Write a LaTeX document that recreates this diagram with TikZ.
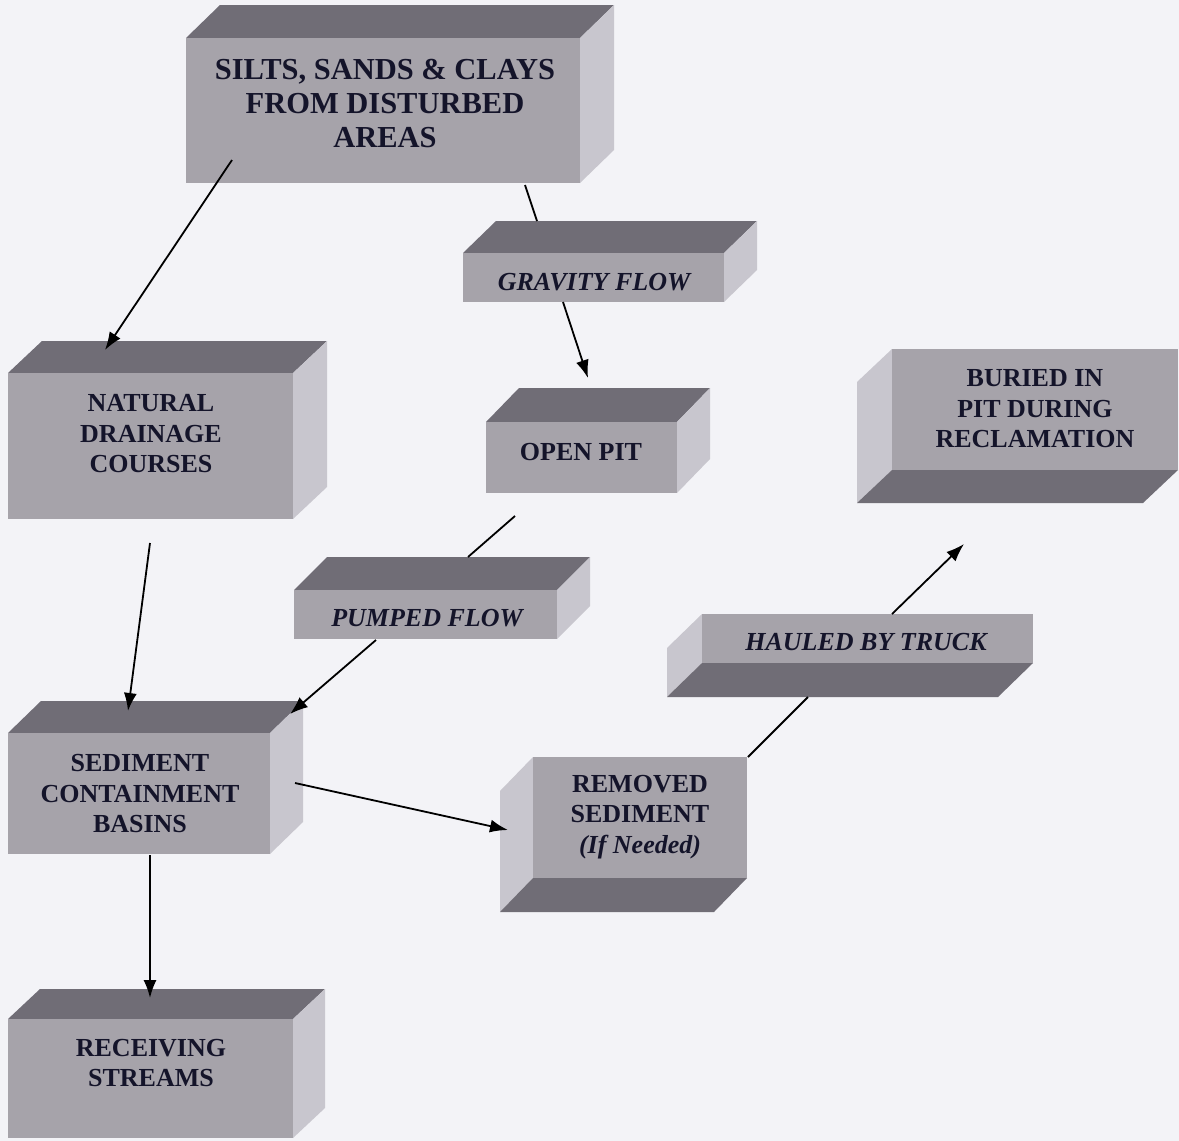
\documentclass[tikz,border=0pt]{standalone}
\usepackage{fontspec}
\setmainfont{Liberation Serif}
\usetikzlibrary{calc,fit,arrows.meta}
\definecolor{bgc}{HTML}{F3F3F7}
\definecolor{frontc}{HTML}{A6A3AA}
\definecolor{darkc}{HTML}{706D76}
\definecolor{lightc}{HTML}{C8C6CE}
\definecolor{txtc}{HTML}{14142A}
\tikzset{
  frontface/.style={fill=frontc, draw=none, inner sep=0pt},
  darkface/.style={fill=darkc},
  lightface/.style={fill=lightc},
  lbl/.style={align=center, font=\bfseries\fontsize{26}{30.5}\selectfont, text=txtc, inner sep=0pt},
  ilbl/.style={lbl, font=\bfseries\itshape\fontsize{26}{30.5}\selectfont},
  arr/.style={line width=1.8pt, -{Latex[length=18pt,width=13pt]}},
  seg/.style={line width=1.8pt},
}
% block seen from above right: name, x1, y1, x2, y2, depth
\newcommand\blockUR[6]{%
  \fill[darkface] (#2,#3) -- ($(#2,#3)+(#6)$) -- ($(#4,#3)+(#6)$) -- (#4,#3) -- cycle;
  \fill[lightface] (#4,#3) -- ($(#4,#3)+(#6)$) -- ($(#4,#5)+(#6)$) -- (#4,#5) -- cycle;
  \node[frontface, fit={(#2,#3)(#4,#5)}] (#1) {};
}
% block seen from below left: name, x1, y1, x2, y2, depth
\newcommand\blockDL[6]{%
  \fill[lightface] (#2,#3) -- ($(#2,#3)+(#6)$) -- ($(#2,#5)+(#6)$) -- (#2,#5) -- cycle;
  \fill[darkface] (#2,#5) -- ($(#2,#5)+(#6)$) -- ($(#4,#5)+(#6)$) -- (#4,#5) -- cycle;
  \node[frontface, fit={(#2,#3)(#4,#5)}] (#1) {};
}
\begin{document}
\begin{tikzpicture}[x=1pt,y=-1pt]
\useasboundingbox (0,0) rectangle (1179,1141);
\fill[bgc] (0,0) rectangle (1179,1141);

\blockUR{silts}{186}{38}{580}{183}{34,-33}
\blockUR{gravity}{463}{253}{724}{302}{33,-32}
\blockUR{natural}{8}{373}{293}{519}{34,-32}
\blockUR{openpit}{486}{422}{677}{493}{33,-34}
\blockDL{buried}{892}{349}{1178}{470}{-35,33}
\blockUR{pumped}{294}{590}{557}{639}{33,-33}
\blockDL{hauled}{702}{614}{1033}{663}{-35,34}
\blockDL{removed}{533}{757}{747}{878}{-33,34}
\blockUR{sediment}{8}{733}{270}{854}{33,-32}
\blockUR{receiving}{8}{1019}{293}{1138}{32,-30}

\node[lbl, font=\bfseries\fontsize{30.5}{34}\selectfont] (silts-t) at (385,104) {SILTS, SANDS \& CLAYS\\FROM DISTURBED\\AREAS};
\node[ilbl] (gravity-t) at (594,282) {GRAVITY FLOW};
\node[lbl] (natural-t) at (151,434) {NATURAL\\DRAINAGE\\COURSES};
\node[lbl] (openpit-t) at (581,452) {OPEN PIT};
\node[lbl] (buried-t) at (1035,409) {BURIED IN\\PIT DURING\\RECLAMATION};
\node[ilbl] (pumped-t) at (427,618) {PUMPED FLOW};
\node[ilbl] (hauled-t) at (866,642) {HAULED BY TRUCK};
\node[lbl] (removed-t) at (640,817) {REMOVED\\SEDIMENT\\{\itshape (If Needed)}};
\node[lbl] (sediment-t) at (140,794) {SEDIMENT\\CONTAINMENT\\BASINS};
\node[lbl] (receiving-t) at (151,1063) {RECEIVING\\STREAMS};

% connector end points
\coordinate (a1s) at (232,160);  \coordinate (a1e) at (105,350);
\coordinate (a2s) at (525,185);  \coordinate (a2m) at (537,221);
\coordinate (a2n) at (563,302);  \coordinate (a2e) at (588,378);
\coordinate (a3s) at (515,516);  \coordinate (a3m) at (468,557);
\coordinate (a3n) at (376,640);  \coordinate (a3e) at (290,714);
\coordinate (a4s) at (150,543);  \coordinate (a4e) at (128,711);
\coordinate (a5s) at (295,783);  \coordinate (a5e) at (508,830);
\coordinate (a6s) at (150,855);  \coordinate (a6e) at (150,998);
\coordinate (a7s) at (748,757);  \coordinate (a7m) at (808,697);
\coordinate (a7n) at (892,614);  \coordinate (a7e) at (964,544);

\draw[arr] (a1s) -- (a1e);
\draw[seg] (a2s) -- (a2m);
\draw[arr] (a2n) -- (a2e);
\draw[seg] (a3s) -- (a3m);
\draw[arr] (a3n) -- (a3e);
\draw[arr] (a4s) -- (a4e);
\draw[arr] (a5s) -- (a5e);
\draw[arr] (a6s) -- (a6e);
\draw[seg] (a7s) -- (a7m);
\draw[arr] (a7n) -- (a7e);
\end{tikzpicture}
\end{document}
